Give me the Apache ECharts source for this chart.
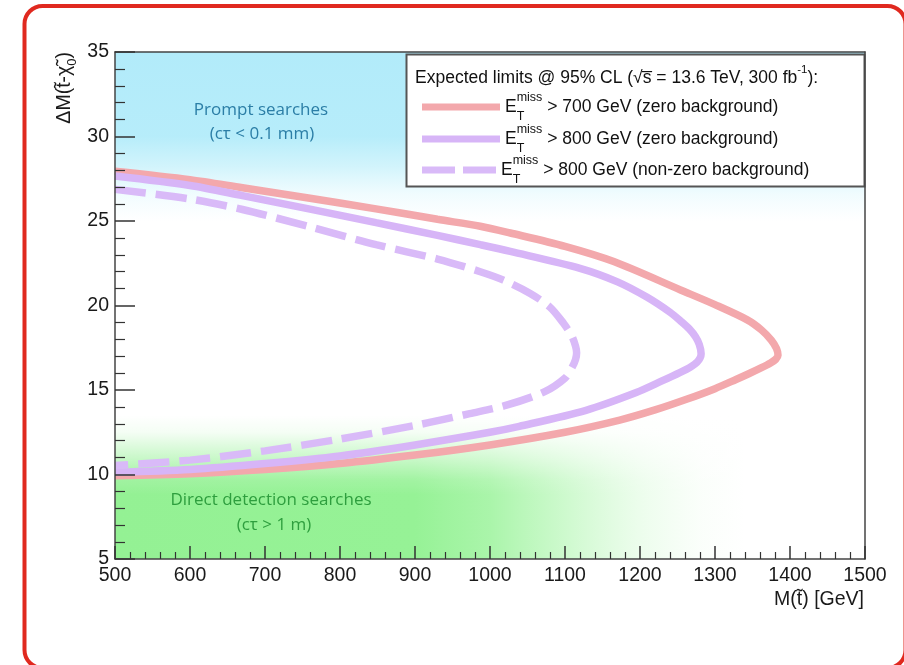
<!DOCTYPE html>
<html>
<head>
<meta charset="utf-8">
<script src="https://cdn.jsdelivr.net/npm/echarts@6/dist/echarts.min.js"></script>
<style>
html,body{margin:0;padding:0;background:#fff;}
#chart{width:904px;height:665px;}
</style>
</head>
<body>
<div id="chart"></div>
<script>
// ---- data ----
const xMin = 500, xMax = 1500, xStep = 100;
const yMin = 5, yMax = 35, yStep = 5;

const seriesNames = [
  'ET miss > 700 GeV (zero background)',
  'ET miss > 800 GeV (zero background)',
  'ET miss > 800 GeV (non-zero background)'
];
const legendTails = [
  ' > 700 GeV (zero background)',
  ' > 800 GeV (zero background)',
  ' > 800 GeV (non-zero background)'
];

// M(stop) [GeV], DeltaM [GeV] along each contour (upper branch -> tip -> lower branch)
const red700zero = [
  [500,27.95],[600,27.45],[670,26.97],[760,26.35],[848,25.72],[930,25.1],[987,24.69],
  [1027,24.29],[1100,23.5],[1165,22.6],[1254,20.92],[1300,20.05],[1343,19.15],
  [1362,18.55],[1375,17.95],[1382,17.45],[1384,17.05],
  [1381,16.82],[1374,16.6],[1362,16.32],[1345,15.96],[1328,15.62],[1300,15.08],
  [1262,14.45],[1220,13.82],[1173,13.22],[1100,12.5],[1000,11.75],[900,11.15],
  [800,10.65],[700,10.3],[600,10.05],[500,9.93]
];
const purple800zero = [
  [500,27.66],[600,27.1],[670,26.5],[760,25.7],[848,24.9],[930,24.15],[987,23.6],
  [1027,23.2],[1120,22.2],[1170,21.4],[1209,20.5],[1240,19.6],[1255,19.05],
  [1266,18.6],[1274,18.15],[1279,17.7],[1281.5,17.15],
  [1280,16.88],[1276,16.64],[1268,16.38],[1253,16.03],[1230,15.55],[1195,14.85],
  [1128,13.8],[1039,12.85],[1000,12.5],[900,11.75],[800,11.1],[700,10.65],
  [600,10.3],[500,10.13]
];
const purple800nonzero = [
  [500,26.87],[600,26.3],[670,25.68],[760,24.65],[848,23.6],[930,22.75],[987,22.0],
  [1018,21.5],[1053,20.73],[1080,19.9],[1098,18.95],[1109,18.2],[1114,17.6],
  [1115.5,17.2],[1114,16.8],[1109,16.3],[1100,15.7],[1073,14.9],[1022,14.1],
  [973,13.6],[900,12.9],[800,12.1],[700,11.4],[600,10.85],[500,10.53]
];

// shaded regions (DeltaM ranges)
const promptBand = [25, 35];
const directBand = [5, 13.5];
const directFadeBand = [5, 14];

const lineColors = ['#f3a8ac', '#d7b5f7', '#d9baf8'];

// ---- chart ----
const chart = echarts.init(document.getElementById('chart'), null, {renderer: 'canvas'});
const AX = 'Liberation Sans, Arial, sans-serif';
const REG = 'Open Sans, sans-serif';

function lg(stops, vertical) {
  return {type: 'linear', x: 0, y: 0, x2: vertical ? 0 : 1, y2: vertical ? 1 : 0,
    colorStops: stops.map(s => ({offset: s[0], color: s[1]}))};
}

const blueGrad = lg([[0,'rgba(178,235,250,1)'],[0.5,'rgba(180,236,250,0.97)'],[0.68,'rgba(186,238,250,0.65)'],
  [0.84,'rgba(195,242,252,0.25)'],[1,'rgba(205,245,252,0)']], true);
const greenGrad = lg([[0,'rgba(148,241,148,1)'],[0.4,'rgba(150,242,150,1)'],[0.5,'rgba(155,243,155,0.85)'],
  [0.6,'rgba(165,245,165,0.55)'],[0.7,'rgba(180,247,180,0.25)'],[0.78,'rgba(195,249,195,0.08)'],[0.84,'rgba(200,250,200,0)'],[1,'rgba(200,250,200,0)']], false);
const whiteFade = lg([[0,'rgba(255,255,255,1)'],[0.056,'rgba(255,255,255,1)'],[0.167,'rgba(255,255,255,0.9)'],
  [0.333,'rgba(255,255,255,0.5)'],[0.478,'rgba(255,255,255,0.12)'],[0.578,'rgba(255,255,255,0)'],[1,'rgba(255,255,255,0)']], true);

const legendRich = {
  e: {fontSize: 17.5, fontFamily: AX, color: '#111', lineHeight: 32},
  t: {fontSize: 12.5, fontFamily: AX, color: '#111', lineHeight: 12, verticalAlign: 'bottom', width: 0},
  m: {fontSize: 12.5, fontFamily: AX, color: '#111', lineHeight: 16, verticalAlign: 'top'},
  r: {fontSize: 17.5, fontFamily: AX, color: '#111', lineHeight: 32}
};
const legendCenters = [107, 139, 170];
const legendIcons = ['rect', 'rect', 'path://M0,0H33V7H0ZM41,0H74V7H41Z'];
const legendIconWidths = [78, 78, 74];
const legends = seriesNames.map((n, i) => ({
  data: [n], orient: 'vertical', left: 422, top: legendCenters[i] - 16, padding: 0,
  icon: legendIcons[i], itemWidth: legendIconWidths[i], itemHeight: 7, itemGap: 0,
  textGap: 86 - legendIconWidths[i], selectedMode: false, z: 6,
  itemStyle: {borderWidth: 0},
  formatter: () => '{e|E}{t|T}{m|miss}{r|' + legendTails[i] + '}',
  textStyle: {fontSize: 17.5, fontFamily: AX, color: '#111', rich: legendRich}
}));

const labelStyle = {fontSize: 19.5, fontFamily: AX, color: '#1a1a1a', formatter: v => String(v)};

const option = {
  animation: false,
  backgroundColor: '#fff',
  grid: {left: 115, right: 39, top: 52, bottom: 106, show: false},
  legend: legends,
  xAxis: [
    {
      type: 'value', min: xMin, max: xMax, interval: xStep, position: 'bottom', z: 10,
      splitLine: {show: false},
      axisLine: {show: true, onZero: false, lineStyle: {color: '#444', width: 1.5}},
      axisTick: {inside: true, length: 13, lineStyle: {color: '#333', width: 1.5}},
      minorTick: {show: true, splitNumber: 5, length: 7, lineStyle: {color: '#333', width: 1.2}},
      axisLabel: Object.assign({margin: 7}, labelStyle)
    },
    {type: 'value', min: xMin, max: xMax, position: 'top', z: 10,
     axisLine: {show: true, onZero: false, lineStyle: {color: '#444', width: 1.5}},
     axisTick: {show: false}, axisLabel: {show: false}, splitLine: {show: false}}
  ],
  yAxis: [
    {
      type: 'value', min: yMin, max: yMax, interval: yStep, position: 'left', z: 10,
      splitLine: {show: false},
      axisLine: {show: true, onZero: false, lineStyle: {color: '#444', width: 1.5}},
      axisTick: {inside: true, length: 20, lineStyle: {color: '#333', width: 1.5}},
      minorTick: {show: true, splitNumber: 5, length: 10, lineStyle: {color: '#333', width: 1.2}},
      axisLabel: Object.assign({margin: 6}, labelStyle)
    },
    {type: 'value', min: yMin, max: yMax, position: 'right', z: 10,
     axisLine: {show: true, onZero: false, lineStyle: {color: '#444', width: 1.5}},
     axisTick: {show: false}, axisLabel: {show: false}, splitLine: {show: false}}
  ],
  series: [
    {
      type: 'line', name: '_regions', data: [[xMin, yMin]], symbol: 'none', silent: true, z: 1,
      lineStyle: {width: 0}, legendHoverLink: false,
      markArea: {
        silent: true,
        label: {show: false},
        data: [
          [{coord: [xMin, promptBand[0]], itemStyle: {color: blueGrad, opacity: 1}}, {coord: [xMax, promptBand[1]]}],
          [{coord: [xMin, directBand[0]], itemStyle: {color: greenGrad, opacity: 1}}, {coord: [xMax, directBand[1]]}],
          [{coord: [xMin, directFadeBand[0]], itemStyle: {color: whiteFade, opacity: 1}}, {coord: [xMax, directFadeBand[1]]}]
        ]
      }
    },
    {
      type: 'line', name: seriesNames[0], data: red700zero, symbol: 'none', smooth: 0.3, z: 3,
      lineStyle: {color: lineColors[0], width: 7.5}, itemStyle: {color: lineColors[0]}
    },
    {
      type: 'line', name: seriesNames[1], data: purple800zero, symbol: 'none', smooth: 0.3, z: 3,
      lineStyle: {color: lineColors[1], width: 7.5}, itemStyle: {color: lineColors[1]}
    },
    {
      type: 'line', name: seriesNames[2], data: purple800nonzero, symbol: 'none', smooth: 0.3, z: 3,
      lineStyle: {color: lineColors[2], width: 7.5, type: [31, 10]}, itemStyle: {color: lineColors[2]}
    }
  ],
  graphic: [
    {type: 'rect', z: 100, silent: true, shape: {x: 24.5, y: 6, width: 881, height: 662, r: 18},
     style: {fill: 'none', stroke: '#e0291f', lineWidth: 4}},
    {type: 'rect', z: 5, silent: true, shape: {x: 406.5, y: 54.5, width: 458, height: 132},
     style: {fill: '#fff', stroke: '#555', lineWidth: 2}},
    {type: 'text', z: 6, silent: true, x: 415, y: 78,
     style: {text: '{a|Expected limits @ 95% CL (√s̅ = 13.6 TeV, 300 fb}{s|-1}{a|):}', verticalAlign: 'middle',
       rich: {a: {fontSize: 17.5, fontFamily: AX, fill: '#111', lineHeight: 28},
              s: {fontSize: 11.5, fontFamily: AX, fill: '#111', lineHeight: 14, verticalAlign: 'top'}}}},
    {type: 'text', silent: true, x: 65, y: 52, rotation: Math.PI / 2,
     style: {text: '{a|ΔM(t̃-χ̃}{s|0}{a|)}', align: 'right', verticalAlign: 'middle',
       rich: {a: {fontSize: 19.5, fontFamily: AX, fill: '#1a1a1a', lineHeight: 28},
              s: {fontSize: 13, fontFamily: AX, fill: '#1a1a1a', lineHeight: 12, verticalAlign: 'bottom'}}}},
    {type: 'text', silent: true, x: 864, y: 600,
     style: {text: 'M(t̃) [GeV]', align: 'right', verticalAlign: 'middle', fontSize: 19.5, fontFamily: AX, fill: '#1a1a1a'}},
    {type: 'text', silent: true, z: 4, x: 261, y: 110,
     style: {text: 'Prompt searches', align: 'center', verticalAlign: 'middle', fontSize: 17, fontFamily: REG, fill: '#2b7ea6'}},
    {type: 'text', silent: true, z: 4, x: 262, y: 134,
     style: {text: '(cτ < 0.1 mm)', align: 'center', verticalAlign: 'middle', fontSize: 17, fontFamily: REG, fill: '#2b7ea6'}},
    {type: 'text', silent: true, z: 4, x: 271, y: 500,
     style: {text: 'Direct detection searches', align: 'center', verticalAlign: 'middle', fontSize: 17, fontFamily: REG, fill: '#2e9e3e'}},
    {type: 'text', silent: true, z: 4, x: 274, y: 525,
     style: {text: '(cτ > 1 m)', align: 'center', verticalAlign: 'middle', fontSize: 17, fontFamily: REG, fill: '#2e9e3e'}}
  ]
};
chart.setOption(option);
</script>
</body>
</html>
